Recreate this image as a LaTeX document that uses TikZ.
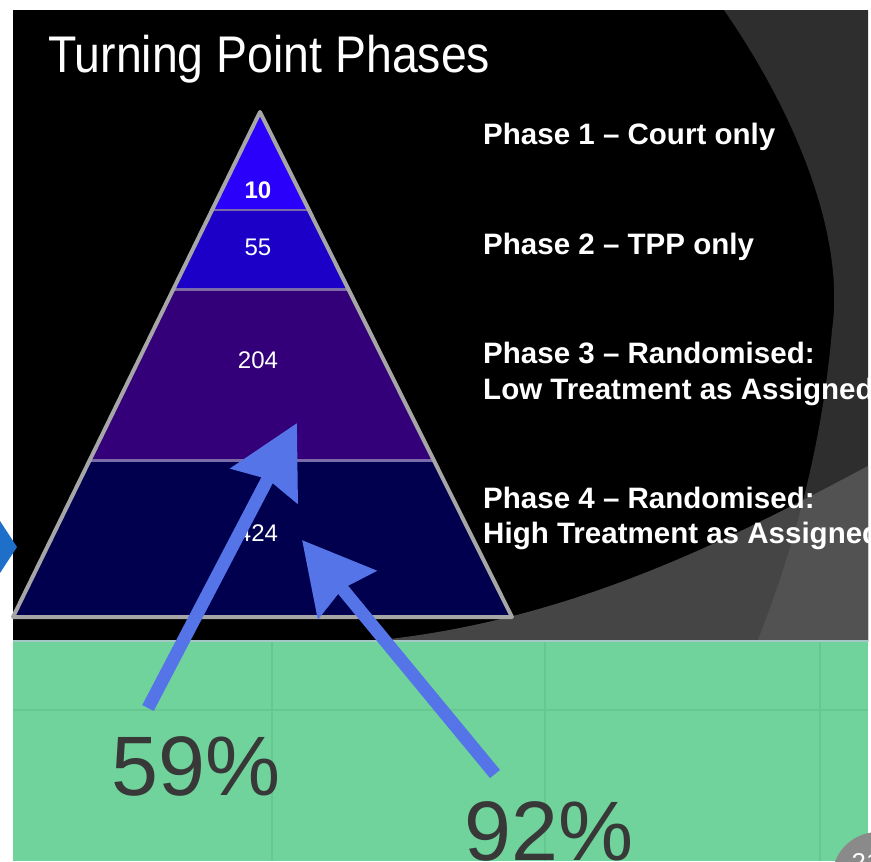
\documentclass[tikz,border=0pt]{standalone}
\usepackage{fontspec}
\setmainfont{Liberation Sans}
\newfontfamily\titlefont[FakeStretch=0.9]{Liberation Sans}
\usetikzlibrary{calc,positioning,arrows.meta}
\definecolor{bgdark}{HTML}{2E2E2E}
\definecolor{bgmid}{HTML}{454545}
\definecolor{bglight}{HTML}{525252}
\definecolor{slidegreen}{HTML}{70D39B}
\definecolor{gridgreen}{HTML}{66C78F}
\definecolor{tierA}{HTML}{2B00FA}
\definecolor{tierB}{HTML}{1C00C8}
\definecolor{tierC}{HTML}{33007A}
\definecolor{tierD}{HTML}{00004F}
\definecolor{rimgray}{HTML}{A6A6A6}
\definecolor{divgray}{HTML}{7A6AA8}
\definecolor{arrowblue}{HTML}{5574E8}
\definecolor{chevblue}{HTML}{1D6FC9}
\definecolor{pctgray}{HTML}{383838}
\definecolor{badgegray}{HTML}{8A8A8A}

\begin{document}
\begin{tikzpicture}[x=0.03cm, y=-0.03cm,
  phase/.style={anchor=base west, text=white, inner sep=0pt,
    font=\fontsize{25.2}{30}\selectfont\bfseries},
  count/.style={text=white, inner sep=0pt, font=\fontsize{20.5}{24}\selectfont},
  pct/.style={text=pctgray, inner sep=0pt, font=\fontsize{72}{80}\selectfont},
  bigarrow/.style={arrowblue, line width=11pt,
    -{Stealth[length=60pt, width=63pt, inset=6pt]}},
  divider/.style={divgray, line width=2.5pt},
  rim/.style={rimgray, line width=3.4pt, line join=round}]

\useasboundingbox (0,0) rectangle (871,861);
\clip (0,0) rectangle (871,861);
\fill[white] (0,0) rectangle (871,861);

\begin{scope}
\clip (13,10) rectangle (868,642);
\fill[black] (13,10) rectangle (868,642);
\fill[bgdark] (724,10) .. controls (800,120) and (845,240) .. (832,330)
  .. controls (822,450) and (790,560) .. (757,642) -- (868,642) -- (868,10) -- cycle;
\fill[bgmid] (360,642) .. controls (560,625) and (720,545) .. (868,466) -- (868,642) -- cycle;
\begin{scope}
\clip (724,10) .. controls (800,120) and (845,240) .. (832,330)
  .. controls (822,450) and (790,560) .. (757,642) -- (868,642) -- (868,10) -- cycle;
\fill[bglight] (360,642) .. controls (560,625) and (720,545) .. (868,466) -- (868,642) -- cycle;
\end{scope}

\node[anchor=base west, text=white, inner sep=0pt,
  font=\titlefont\fontsize{44}{50}\selectfont] (title) at (48,72) {Turning Point Phases};

\node[phase] (ph1) at (483,144) {Phase 1 – Court only};
\node[phase] (ph2) at (483,254) {Phase 2 – TPP only};
\node[phase] (ph3a) at (483,363) {Phase 3 – Randomised:};
\node[phase] (ph3b) at (483,399) {Low Treatment as Assigned};
\node[phase] (ph4a) at (483,508) {Phase 4 – Randomised:};
\node[phase] (ph4b) at (483,543) {High Treatment as Assigned};
\end{scope}

\fill[slidegreen] (13,642) rectangle (868,861);
\draw[gridgreen, line width=1pt] (272,642) -- (272,861) (545,642) -- (545,861)
  (820,642) -- (820,861) (13,710) -- (868,710);
\draw[color={rgb,255:red,166;green,200;blue,196}, line width=1.7pt] (13,641) -- (868,641);

\fill[chevblue] (0,521) -- (17,547) -- (0,573) -- cycle;

\coordinate (apex) at (260,112);
\coordinate (bl) at (13,617);
\coordinate (br) at (512,617);
\coordinate (l1) at ($(apex)!0.194!(bl)$);
\coordinate (r1) at ($(apex)!0.194!(br)$);
\coordinate (l2) at ($(apex)!0.352!(bl)$);
\coordinate (r2) at ($(apex)!0.352!(br)$);
\coordinate (l3) at ($(apex)!0.691!(bl)$);
\coordinate (r3) at ($(apex)!0.691!(br)$);

\fill[tierA] (apex) -- (l1) -- (r1) -- cycle;
\fill[tierB] (l1) -- (l2) -- (r2) -- (r1) -- cycle;
\fill[tierC] (l2) -- (l3) -- (r3) -- (r2) -- cycle;
\fill[tierD] (l3) -- (bl) -- (br) -- (r3) -- cycle;
\draw[divider] (l1) -- (r1);
\draw[divider] (l2) -- (r2);
\draw[divider] (l3) -- (r3);
\draw[rim] (apex) -- (bl) -- (br) -- cycle;

\node[count, font=\fontsize{20.5}{24}\selectfont\bfseries] (n10) at (258,190) {10};
\node[count] (n55) at (258,247) {55};
\node[count] (n204) at (258,360) {204};
\node[count] (n424) at (258,533) {424};

\coordinate (tailA) at (148,708);
\coordinate (tipA) at (297,423);
\coordinate (tailB) at (495,774);
\coordinate (tipB) at (302,540);
\draw[bigarrow] (tailA) -- (tipA);
\draw[bigarrow] (tailB) -- (tipB);

\node[pct] (p59) at (196,766) {59\%};
\node[pct] (p92) at (549,831) {92\%};

\fill[badgegray] (878,878) circle (46);
\node[text=white, inner sep=0pt, font=\fontsize{22}{24}\selectfont] (slideno) at (866,862) {21};

\end{tikzpicture}
\end{document}
